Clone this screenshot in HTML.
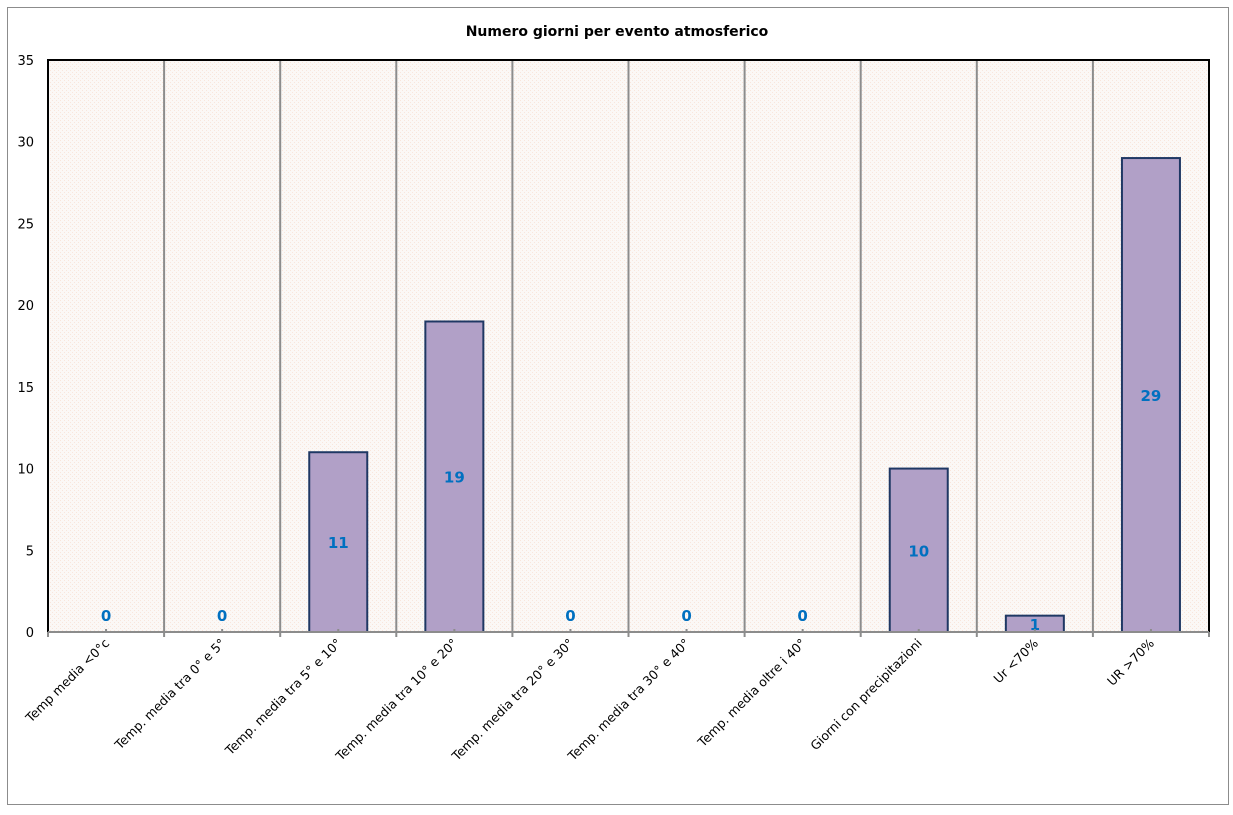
<!DOCTYPE html>
<html><head><meta charset="utf-8"><style>
body{margin:0;background:#fff;}
svg text{font-family:"DejaVu Sans","Liberation Sans",sans-serif;}
</style></head><body>
<svg width="1233" height="810" xmlns="http://www.w3.org/2000/svg">
<defs>
<pattern id="hatch" width="4" height="4" patternUnits="userSpaceOnUse">
<rect width="4" height="4" fill="#fbf8f6"/>
<rect width="1" height="1" fill="#f8e6dc"/>
<rect x="2" y="2" width="1" height="1" fill="#f8e6dc"/>
</pattern>
</defs>
<rect x="7.5" y="7.5" width="1221" height="797" fill="#fff" stroke="#8c8c8c"/>
<text x="617" y="36" text-anchor="middle" font-size="14" font-weight="bold">Numero giorni  per evento atmosferico</text>
<rect x="48" y="60" width="1161" height="572" fill="url(#hatch)"/>
<g id="grid"></g><g id="bars"></g><g id="labels"></g><g id="yaxis"></g>
<line x1="48" y1="60" x2="1209" y2="60" stroke="#000" stroke-width="2"/>
<line x1="1209" y1="59" x2="1209" y2="633" stroke="#000" stroke-width="2"/>
<line x1="48" y1="59" x2="48" y2="633" stroke="#000" stroke-width="2"/>
<line x1="48" y1="632" x2="1209" y2="632" stroke="#8c8c8c" stroke-width="2"/>
<g id="ticks"></g>
</svg>
<script>
const categories=["Temp media <0°c","Temp. media tra 0° e 5°","Temp. media tra 5° e 10°","Temp. media tra 10° e 20°","Temp. media tra 20° e 30°","Temp. media tra 30° e 40°","Temp. media oltre i 40°","Giorni con precipitazioni","Ur  <70%","UR >70%"];
const values=[0,0,11,19,0,0,0,10,1,29];
const yTicks=[0,5,10,15,20,25,30,35];
const NS="http://www.w3.org/2000/svg";
const L=48,R=1209,T=60,B=632,yMax=35;
const cw=(R-L)/categories.length;
const x=i=>L+cw*i;
const y=v=>B-(B-T)*v/yMax;
function mk(tag,attrs,parent){const e=document.createElementNS(NS,tag);for(const k in attrs)e.setAttribute(k,attrs[k]);document.getElementById(parent).appendChild(e);return e;}
for(let i=1;i<categories.length;i++){
 const g=mk('line',{x1:x(i),x2:x(i),y1:T,y2:B,stroke:'#8c8c8c','stroke-width':2},'grid');
 
 
}
yTicks.forEach(t=>{
 const tx=mk('text',{x:34,y:y(t)+5,'text-anchor':'end','font-size':13,fill:'#000'},'yaxis');
 tx.textContent=t;
 
 
});
categories.forEach((c,i)=>{
 const cx=x(i)+cw/2,v=values[i];
 if(v>0){
  const r=mk('rect',{x:cx-29,y:y(v),width:58,height:B-y(v),fill:'#b1a0c7',stroke:'#1f3864','stroke-width':2},'bars');
  
  
 }
 const ly=v>0?(y(v)+B)/2+6:B-11;
 const vt=mk('text',{x:cx,y:ly,'text-anchor':'middle','font-size':15,'font-weight':'bold',fill:'#0070c0'},'labels');
 vt.textContent=v;
 
 
 const tk=mk('line',{x1:cx,x2:cx,y1:B-3,y2:B+1,stroke:'#8c8c8c','stroke-width':2},'ticks');
 
 
 const ct=mk('text',{x:cx+4,y:B+12,'text-anchor':'end','font-size':12.5,fill:'#000',transform:`rotate(-45 ${cx+4} ${B+12})`},'ticks');
 ct.textContent=c;
 
 
});
for(let i=0;i<=categories.length;i++){
 const tk=mk('line',{x1:x(i),x2:x(i),y1:B,y2:B+5,stroke:'#8c8c8c','stroke-width':2},'ticks');
 
 
}
</script>
</body></html>
